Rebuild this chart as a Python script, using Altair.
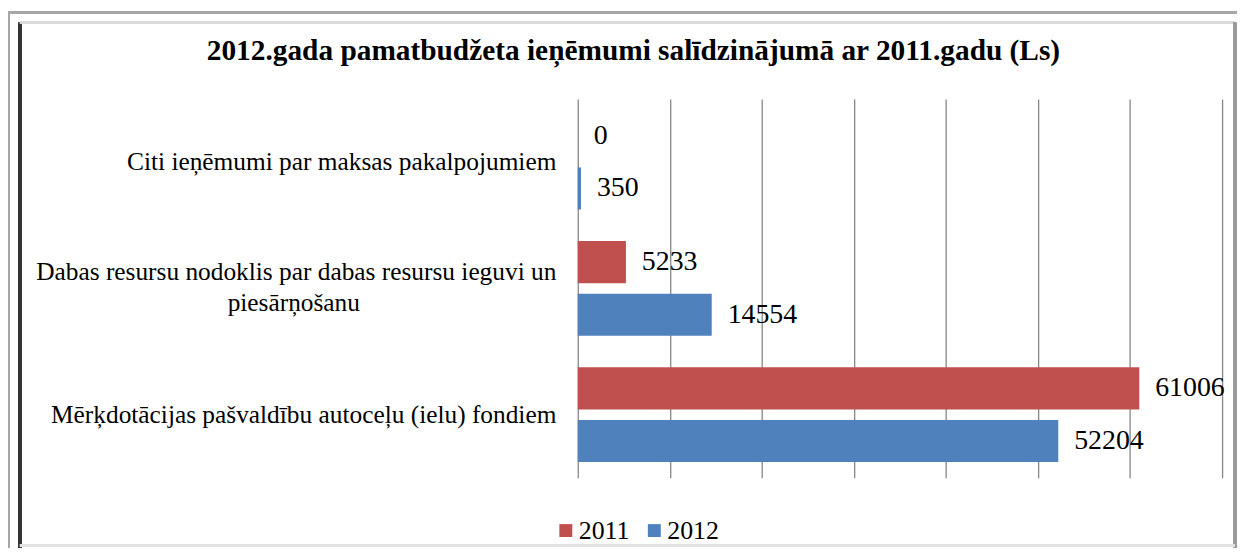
import altair as alt
import pandas as pd

CATEGORIES = [
    "Citi ieņēmumi par maksas pakalpojumiem",
    "Dabas resursu nodoklis par dabas resursu ieguvi un piesārņošanu",
    "Mērķdotācijas pašvaldību autoceļu (ielu) fondiem",
]
YEARS = ["2011", "2012"]
VALUES_2011 = [0, 5233, 61006]
VALUES_2012 = [350, 14554, 52204]
COLORS = ["#C0504D", "#4F81BD"]
TITLE = "2012.gada pamatbudžeta ieņēmumi salīdzinājumā ar 2011.gadu (Ls)"

rows = []
for i, c in enumerate(CATEGORIES):
    rows.append({"cat": c, "year": "2011", "value": VALUES_2011[i]})
    rows.append({"cat": c, "year": "2012", "value": VALUES_2012[i]})
df = pd.DataFrame(rows)

FONT = "Liberation Serif"
# non-breaking spaces closed by a zero-width space so the second line sits centred under the first
PAD = "\u00a0" * 31 + "\u200b"
label_expr = (
    "datum.value == '" + CATEGORIES[1] + "' ? "
    "['Dabas resursu nodoklis par dabas resursu ieguvi un', 'piesārņošanu" + PAD + "'] : datum.value"
)
two_line_test = "datum.value == '" + CATEGORIES[1] + "'"

W, H = 648, 381

y_enc = alt.Y(
    "cat:N",
    sort=CATEGORIES,
    scale=alt.Scale(paddingInner=0.25, paddingOuter=0.125),
    axis=alt.Axis(
        title=None, ticks=False, domain=False, grid=False,
        labelFont=FONT, labelFontSize=25.5, labelColor="#000000",
        labelPadding=22, labelLimit=800, labelLineHeight=31,
        labelExpr=label_expr,
        labelOffset={"condition": {"test": two_line_test, "value": -16}, "value": 0},
    ),
)
yoff = alt.YOffset("year:N", sort=YEARS, scale=alt.Scale(paddingInner=0.2))
x_enc = alt.X(
    "value:Q",
    scale=alt.Scale(domain=[0, 70000], nice=False),
    axis=alt.Axis(
        title=None, labels=False, ticks=False, domain=False,
        grid=True, gridColor="#868686", gridWidth=1.3,
        values=[0, 10000, 20000, 30000, 40000, 50000, 60000, 70000],
    ),
)

bars = alt.Chart(df).mark_bar().encode(
    y=y_enc,
    yOffset=yoff,
    x=x_enc,
    color=alt.Color(
        "year:N",
        sort=YEARS,
        scale=alt.Scale(domain=YEARS, range=COLORS),
        legend=alt.Legend(
            title=None, orient="none", direction="horizontal",
            legendX=-25, legendY=421, padding=0, symbolType="square", symbolSize=169,
            symbolStrokeWidth=0, labelFont=FONT, labelFontSize=26,
            labelColor="#000000", columnPadding=11, labelOffset=0,
        ),
    ),
)

labels = alt.Chart(df).mark_text(
    align="left", baseline="middle", dx=16, font=FONT, fontSize=28, color="#000000"
).encode(
    y=y_enc,
    yOffset=yoff,
    x=x_enc,
    text="value:Q",
)

def rule(x, x2, y, y2, color, w):
    return alt.Chart(df).mark_rule(color=color, strokeWidth=w).encode(
        x=alt.value(x), x2=alt.value(x2), y=alt.value(y), y2=alt.value(y2)
    )

frame = [
    rule(-581, 667, -87, -87, "#a6a6a6", 2),
    rule(-572, -572, -87, 452, "#a6a6a6", 2),
    rule(-561, -561, -77, 452, "#333333", 3),
    rule(-561, 661, -77, -77, "#d9d9d9", 3),
    rule(661, 661, -77, 452, "#9a9a9a", 3),
    rule(-561, 661, 449, 449, "#e3e3e3", 3),
]

chart = alt.layer(*frame, bars, labels).properties(
    width=W,
    height=H,
    title=alt.TitleParams(
        text=TITLE, font=FONT, fontSize=29.5, fontWeight="bold", color="#000000",
        anchor="middle", dx=-268, offset=0, dy=78, baseline="alphabetic",
    ),
    autosize=alt.AutoSizeParams(type="none"),
    padding={"left": 573, "top": 90, "right": 15, "bottom": 69},
).configure(background="#ffffff").configure_view(stroke=None)

chart.save("out.html", embed_options={"renderer": "svg", "actions": False})
